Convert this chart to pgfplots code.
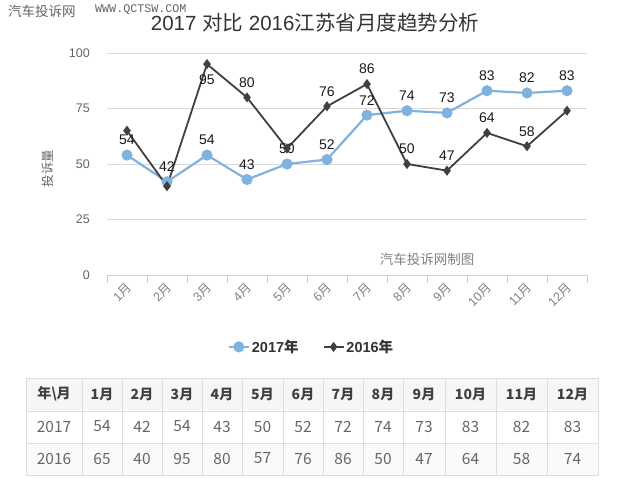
\documentclass[border=0pt]{standalone}
\usepackage{pgfplots}
\pgfplotsset{compat=1.18}
\usepackage{fontspec}
\setmainfont{Liberation Sans}
\setmonofont{Liberation Mono}
\newfontfamily\cjk{Noto Sans CJK SC}
\definecolor{c17}{RGB}{127,178,222}
\definecolor{c16}{RGB}{64,64,64}
\definecolor{gridc}{RGB}{217,217,217}
\definecolor{tickc}{RGB}{200,208,216}
\definecolor{txt}{RGB}{100,100,100}
\definecolor{tline}{RGB}{221,221,221}
\definecolor{thead}{RGB}{246,246,246}
\begin{document}
\begin{tikzpicture}
\path (0pt,0pt) rectangle (630pt,486pt);
% watermark
\node[anchor=west, inner sep=0pt, text=txt] at (8pt,475pt) {\fontsize{13.5}{13.5}\selectfont\cjk 汽车投诉网};
\node[anchor=west, inner sep=0pt, text=txt] at (95pt,476pt) {\fontsize{11.7}{11.7}\selectfont\ttfamily WWW.QCTSW.COM};
% title
\node[text=black!80, inner sep=0pt] at (315pt,463pt) {\fontsize{20.5}{20.5}\selectfont 2017 {\cjk 对比} 2016{\cjk 江苏省月度趋势分析}};
\node[text=black!50, inner sep=0pt] at (427pt,227pt) {\fontsize{13.5}{13.5}\selectfont\cjk 汽车投诉网制图};

\begin{axis}[
  at={(107pt,211pt)}, anchor=south west,
  width=480pt, height=222pt, scale only axis,
  xmin=0.5, xmax=12.5, ymin=0, ymax=100,
  axis line style={draw=none},
  xtick=\empty,
  ytick={25,50,75,100},
  extra y ticks={0}, extra y tick style={grid=none},
  ymajorgrids, grid style={gridc, line width=0.8pt},
  major tick length=0pt,
  yticklabel style={font=\fontsize{12.5}{12.5}\selectfont, text=txt, inner sep=0pt, xshift=-17pt},
  /pgf/number format/assume math mode=true,
  ylabel={\cjk 投诉量},
  ylabel style={at={(axis description cs:-0.123,0.48)}, anchor=center, font=\fontsize{12.5}{12.5}\selectfont, text=txt},
  clip=false,
  nodes near coords style={font=\fontsize{14}{14}\selectfont, text=black!90, anchor=center, yshift=15pt},
  legend style={at={(axis description cs:0.426,-0.324)}, anchor=center, draw=none, fill=none,
    legend columns=2, font=\bfseries\fontsize{14.5}{14.5}\selectfont, text=black!80,
    /tikz/every even column/.append style={column sep=22pt}},
  legend image code/.code={\draw[mark repeat=2,mark phase=2,#1] plot coordinates {(0pt,0pt)(10pt,0pt)(20pt,0pt)};},
]
\addplot[c17, line width=2.2pt, mark=*, mark size=4.4pt, mark options={fill=c17, draw=c17},
  nodes near coords] coordinates {
(1,54)(2,42)(3,54)(4,43)(5,50)(6,52)(7,72)(8,74)(9,73)(10,83)(11,82)(12,83)};
\addlegendentry{2017{\cjk\bfseries 年}}
\addplot[c16, line width=1.8pt, mark=diamond*, mark size=3.6pt, mark options={fill=c16, draw=c16}] coordinates {
(1,65)(2,40)(3,95)(4,80)(5,57)(6,76)(7,86)(8,50)(9,47)(10,64)(11,58)(12,74)};
\addlegendentry{2016{\cjk\bfseries 年}}
\addplot[draw=none, mark=none, forget plot, nodes near coords] coordinates {
(4,80)(6,76)(7,86)(8,50)(9,47)(10,64)(11,58)};
\addplot[draw=none, mark=none, forget plot, nodes near coords,
  nodes near coords style={yshift=-31pt}] coordinates {(3,95)};
\end{axis}

\begin{axis}[
  at={(107pt,211pt)}, anchor=south west, width=480pt, height=10pt, scale only axis,
  xmin=0.5, xmax=12.5, ymin=0, ymax=1,
  axis x line=bottom, axis y line=none,
  x axis line style={tickc, line width=0.8pt, -},
  xtick={1,...,12},
  xticklabels={{1\cjk 月},{2\cjk 月},{3\cjk 月},{4\cjk 月},{5\cjk 月},{6\cjk 月},{7\cjk 月},{8\cjk 月},{9\cjk 月},{10\cjk 月},{11\cjk 月},{12\cjk 月}},
  major tick length=0pt,
  minor xtick={0.5,1.5,...,12.5}, minor tick length=8pt, tick align=outside,
  minor tick style={tickc, line width=0.8pt},
  xticklabel style={rotate=45, anchor=east, font=\fontsize{12.5}{12.5}\selectfont, text=black!50, inner sep=0pt, yshift=-9pt, xshift=-6pt},
]
\end{axis}

% table
\fill[thead] (26pt,76pt) rectangle (598pt,108pt);
\fill[thead!60] (26pt,11pt) rectangle (598pt,43pt);
\foreach \y in {378,411,443,475} \draw[tline, line width=0.8pt] (26pt,{(486-\y)*1pt}) -- (598pt,{(486-\y)*1pt});
\foreach \x in {26,82,122,162,202,242,283,323,363,403,445,496,547,598} \draw[tline, line width=0.8pt] (\x pt,11pt) -- (\x pt,108pt);
\node[text=black!75, font=\cjk\bfseries\fontsize{14}{14}\selectfont] at (54pt,92pt) {年\textbackslash 月};
\foreach \x/\m in {102/1,142/2,182/3,222/4,262.5/5,303/6,343/7,383/8,424/9,470.5/10,521.5/11,572.5/12}
  \node[text=black!75, font=\cjk\bfseries\fontsize{14}{14}\selectfont] at (\x pt,92pt) {\m 月};
\node[text=black!60, font=\cjk\fontsize{15.5}{15.5}\selectfont] at (54pt,59.5pt) {2017};
\node[text=black!60, font=\cjk\fontsize{15.5}{15.5}\selectfont] at (54pt,27.5pt) {2016};
\foreach \x/\a/\b in {102/54/65,142/42/40,182/54/95,222/43/80,262.5/50/57,303/52/76,343/72/86,383/74/50,424/73/47,470.5/83/64,521.5/82/58,572.5/83/74}{
  \node[text=black!60, font=\cjk\fontsize{15.5}{15.5}\selectfont] at (\x pt,59.5pt) {\a};
  \node[text=black!60, font=\cjk\fontsize{15.5}{15.5}\selectfont] at (\x pt,27.5pt) {\b};
}
\end{tikzpicture}
\end{document}
